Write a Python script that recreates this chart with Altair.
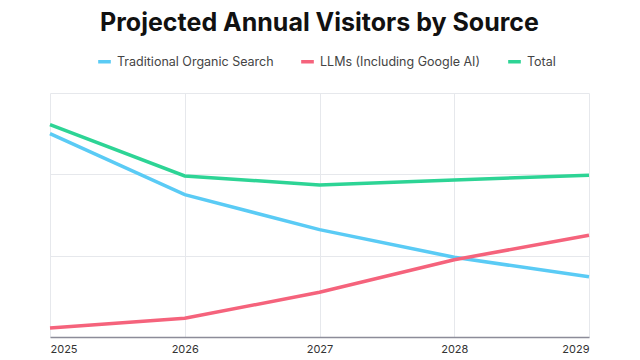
import altair as alt
import pandas as pd

years = [2025, 2026, 2027, 2028, 2029]
traditional = [250, 175, 132, 98, 74]
llms = [11, 23, 55, 95, 125]
total = [261, 198, 187, 193, 199]

series_names = ["Traditional Organic Search", "LLMs (Including Google AI)", "Total"]
series_colors = ["#5ACBF5", "#F5637C", "#2DD495"]

rows = []
for name, vals in zip(series_names, [traditional, llms, total]):
    for y, v in zip(years, vals):
        rows.append({"year": y, "value": v, "series": name})
df = pd.DataFrame(rows)

chart = alt.Chart(df).mark_line(strokeWidth=3.5).encode(
    x=alt.X("year:Q", scale=alt.Scale(domain=[2025, 2029], nice=False, zero=False),
            axis=alt.Axis(title=None, format="d", values=years, grid=True, gridColor="#E6E8EC",
                          domainColor="#8C8C99", domainWidth=1.5, ticks=False,
                          labelColor="#333333", labelFontSize=11, labelFont="Inter",
                          labelPadding=6)),
    y=alt.Y("value:Q", scale=alt.Scale(domain=[0, 300], nice=False),
            axis=alt.Axis(title=None, labels=False, ticks=False, domain=False,
                          values=[0, 100, 200, 300], gridColor="#E6E8EC")),
    color=alt.Color("series:N", scale=alt.Scale(domain=series_names, range=series_colors),
                    sort=series_names,
                    legend=alt.Legend(title=None, orient="none", direction="horizontal",
                                      legendX=46, legendY=-40,
                                      symbolType="stroke", symbolStrokeWidth=3.5, symbolSize=160,
                                      labelFontSize=12.5, labelFont="Inter", labelColor="#444444",
                                      labelLimit=400, columnPadding=20)),
).properties(
    width=539, height=244,
    title=alt.TitleParams("Projected Annual Visitors by Source", fontSize=25, font="Inter",
                          fontWeight="bold", color="#111111", anchor="middle", offset=17),
    autosize=alt.AutoSizeParams(type="none"),
    padding={"left": 42, "top": 85, "right": 43, "bottom": 19},
).configure_view(stroke=None)

chart.save("out.html", embed_options={"renderer": "svg", "actions": False})
